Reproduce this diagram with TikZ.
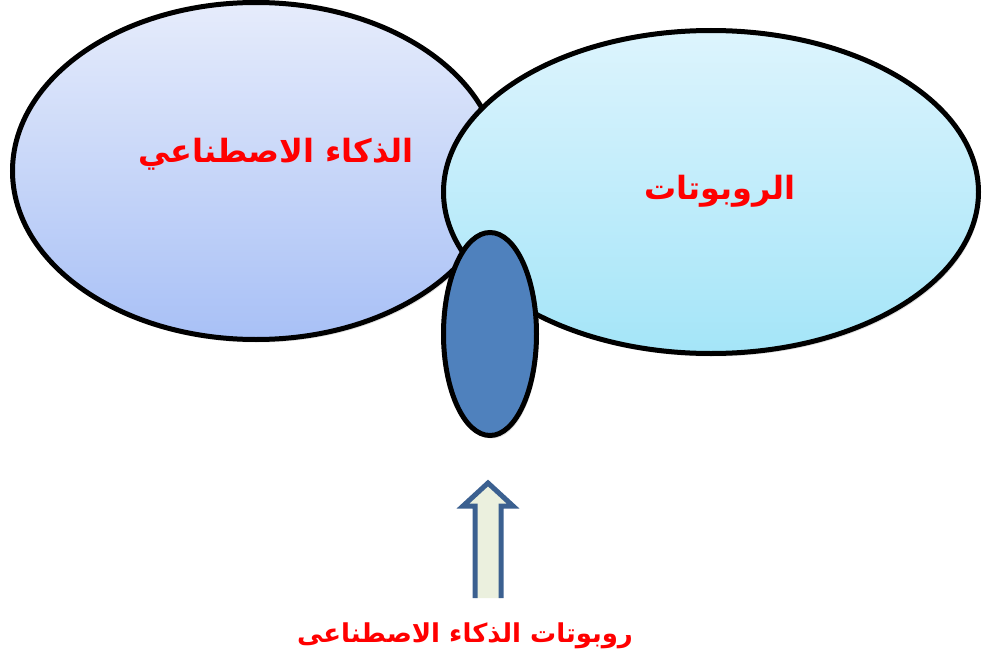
\documentclass[tikz,border=0pt]{standalone}
\usepackage{fontspec}
\usetikzlibrary{shapes.geometric,shadows}
\TeXXeTstate=1
\newfontfamily\arabicfont[Script=Arabic]{DejaVu Sans}
\definecolor{leftTop}{HTML}{E6ECFB}
\definecolor{leftBot}{HTML}{A8C0F6}
\definecolor{rightTop}{HTML}{DDF4FD}
\definecolor{rightBot}{HTML}{A4E5F8}
\definecolor{smallFill}{HTML}{4F81BD}
\definecolor{arrowEdge}{HTML}{3B6090}
\definecolor{arrowFill}{HTML}{EBF0DE}
\definecolor{txtRed}{HTML}{FF0000}
\tikzset{
  bubble/.style={ellipse, draw=black, line width=5pt, inner sep=0pt},
  lbl/.style={text=txtRed, font=\arabicfont\bfseries\fontsize{32}{36}\selectfont},
  smalllbl/.style={text=txtRed, font=\arabicfont\bfseries\fontsize{26}{30}\selectfont},
}
\begin{document}
\begin{tikzpicture}[x=1pt,y=-1pt]
\useasboundingbox (0,0) rectangle (986,661);
\node[bubble, minimum width=487pt, minimum height=337pt, top color=leftTop, bottom color=leftBot, drop shadow={opacity=0.25, shadow xshift=2pt, shadow yshift=-3pt}] (ai) at (256,171) {};
\node[bubble, minimum width=535pt, minimum height=323pt, top color=rightTop, bottom color=rightBot, drop shadow={opacity=0.25, shadow xshift=2pt, shadow yshift=-3pt}] (rob) at (711,192) {};
\node[bubble, minimum width=93pt, minimum height=203pt, fill=smallFill, drop shadow={opacity=0.25, shadow xshift=2pt, shadow yshift=-3pt}] (mix) at (490,334) {};
\node[lbl] (ailbl) at (276,154) {\beginR الذكاء الاصطناعي\endR};
\node[lbl] (roblbl) at (720,191) {\beginR الروبوتات\endR};
\node[smalllbl] (bottom) at (465,636) {\beginR روبوتات الذكاء الاصطناعى\endR};
\coordinate (tip) at (488,483);
\draw[draw=arrowEdge, fill=arrowFill, line width=5pt, line join=miter]
  (475,598) -- (475,506) -- (463,506) -- (tip) -- (513,506) -- (501,506) -- (501,598);
\end{tikzpicture}
\end{document}
